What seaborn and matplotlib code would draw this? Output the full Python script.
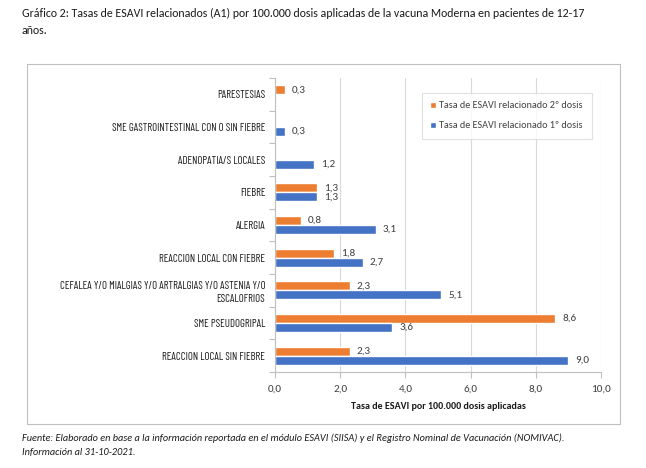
import numpy as np
import pandas as pd
import matplotlib
matplotlib.use("Agg")
import matplotlib.pyplot as plt
import seaborn as sns
from matplotlib.patches import Rectangle

categories = [
    "PARESTESIAS",
    "SME GASTROINTESTINAL CON O SIN FIEBRE",
    "ADENOPATIA/S LOCALES",
    "FIEBRE",
    "ALERGIA",
    "REACCION LOCAL CON FIEBRE",
    "CEFALEA Y/O MIALGIAS Y/O ARTRALGIAS Y/O ASTENIA Y/O\nESCALOFRIOS",
    "SME PSEUDOGRIPAL",
    "REACCION LOCAL SIN FIEBRE",
]
dosis2 = [0.3, np.nan, np.nan, 1.3, 0.8, 1.8, 2.3, 8.6, 2.3]
dosis1 = [np.nan, 0.3, 1.2, 1.3, 3.1, 2.7, 5.1, 3.6, 9.0]
series = ["Tasa de ESAVI relacionado 2º dosis", "Tasa de ESAVI relacionado 1º dosis"]
colors = ["#ED7D31", "#4472C4"]
xticks = [0, 2, 4, 6, 8, 10]

sns.set_theme(style="white")
FONT = ["Carlito", "DejaVu Sans"]
COND = ["Barlow Condensed", "Archivo Narrow", "DejaVu Sans"]
plt.rcParams["font.family"] = FONT

df = pd.DataFrame({
    "cat": categories * 2,
    "val": dosis2 + dosis1,
    "serie": [series[0]] * len(categories) + [series[1]] * len(categories),
})

fig = plt.figure(figsize=(6.46, 4.68), dpi=100)
ax = fig.add_axes([0.4257, 0.2051, 0.5046, 0.6282])

sns.barplot(data=df, y="cat", x="val", hue="serie", hue_order=series,
            order=categories, palette=colors, orient="h", width=0.55,
            gap=0, saturation=1, ax=ax, legend=True, err_kws={"linewidth": 0})

for cont in ax.containers:
    labels = []
    for v in cont.datavalues:
        labels.append("" if np.isnan(v) else f"{v:.1f}".replace(".", ","))
    ax.bar_label(cont, labels=labels, padding=5, fontsize=8, color="#404040")

ax.set_xlim(0, 10)
ax.set_xticks(xticks)
ax.set_xticklabels([f"{t:.1f}".replace(".", ",") for t in xticks])
ax.grid(axis="x", color="#D9D9D9", linewidth=0.8)
ax.set_axisbelow(True)
for s in ["top", "right"]:
    ax.spines[s].set_visible(False)
ax.spines["left"].set_color("#BFBFBF")
ax.spines["bottom"].set_color("#BFBFBF")
ax.spines["left"].set_linewidth(0.8)
ax.spines["bottom"].set_linewidth(0.8)
ax.set_yticks(np.arange(-0.5, len(categories)), minor=True)
ax.tick_params(axis="y", which="minor", length=4, color="#BFBFBF", width=0.8, left=True)
ax.tick_params(axis="y", which="major", length=0, labelsize=7.8, colors="#1a1a1a", pad=7)
for lab in ax.get_yticklabels():
    lab.set_family(COND)
    lab.set_linespacing(1.35)
ax.tick_params(axis="x", length=4, color="#BFBFBF", width=0.8, bottom=True, labelsize=8,
               colors="#404040", pad=5)
ax.set_ylabel("")
ax.set_xlabel("Tasa de ESAVI por 100.000 dosis aplicadas", fontsize=7.2, fontweight="bold",
              color="#1a1a1a", labelpad=6)
ax.set_ylim(len(categories) - 0.5, -0.5)

leg = ax.legend(loc="upper left", bbox_to_anchor=(0.45, 0.95), frameon=True, fancybox=False,
                edgecolor="#D9D9D9", fontsize=7.3, handlelength=0.6, handleheight=0.6,
                handletextpad=0.3, labelspacing=1.1, borderpad=0.85, borderaxespad=0)
leg.get_frame().set_linewidth(0.8)
for t in leg.get_texts():
    t.set_color("#404040")

fig.patches.append(Rectangle((27 / 646, 1 - 424 / 468), (620 - 27) / 646, (424 - 64) / 468,
                             transform=fig.transFigure, fill=False, edgecolor="#BFBFBF",
                             linewidth=0.8))

fig.text(22 / 646, 1 - 13 / 468,
         "Gráfico 2: Tasas de ESAVI relacionados (A1) por 100.000 dosis aplicadas de la vacuna Moderna en pacientes de 12-17",
         fontsize=8.6, va="center", ha="left", color="#1a1a1a")
fig.text(22 / 646, 1 - 30 / 468, "años.", fontsize=8.6, va="center", ha="left", color="#1a1a1a")
fig.text(22 / 646, 1 - 438 / 468,
         "Fuente: Elaborado en base a la información reportada en el módulo ESAVI (SIISA) y el Registro Nominal de Vacunación (NOMIVAC).",
         fontsize=7.4, style="italic", va="center", ha="left", color="#1a1a1a")
fig.text(22 / 646, 1 - 452 / 468, "Información al 31-10-2021.",
         fontsize=7.4, style="italic", va="center", ha="left", color="#1a1a1a")

fig.savefig("out.png", dpi=100, facecolor="white")
